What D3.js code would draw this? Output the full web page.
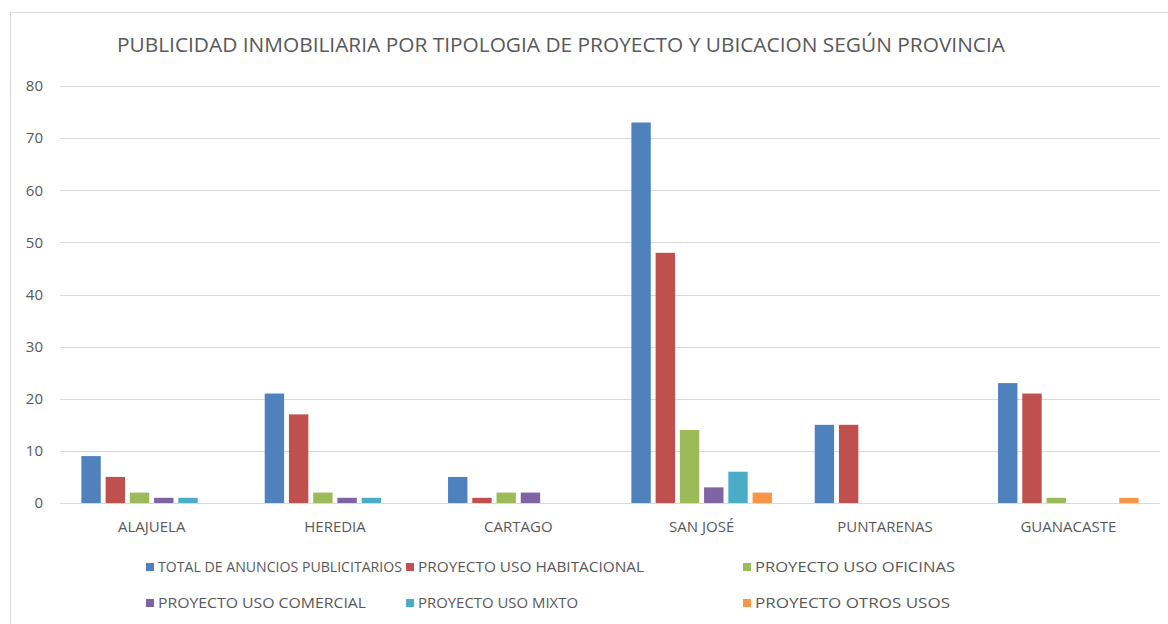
<!DOCTYPE html>
<html>
<head>
<meta charset="utf-8">
<script src="https://cdn.jsdelivr.net/npm/d3@7"></script>
<style>
	body { margin: 0; background: #fff; }
	text { font-family: "Open Sans", "DejaVu Sans", sans-serif; fill: #595959; }
</style>
</head>
<body>
<svg width="1168" height="624"></svg>
<script>
//	data
var provincias = ["ALAJUELA", "HEREDIA", "CARTAGO", "SAN JOSÉ", "PUNTARENAS", "GUANACASTE"];
var series = ["TOTAL DE ANUNCIOS PUBLICITARIOS", "PROYECTO USO HABITACIONAL", "PROYECTO USO OFICINAS",
	"PROYECTO USO COMERCIAL", "PROYECTO USO MIXTO", "PROYECTO OTROS USOS"];
var total = [9, 21, 5, 73, 15, 23];
var habitacional = [5, 17, 1, 48, 15, 21];
var oficinas = [2, 2, 2, 14, 0, 1];
var comercial = [1, 1, 2, 3, 0, 0];
var mixto = [1, 1, 0, 6, 0, 0];
var otros = [0, 0, 0, 2, 0, 1];
var yTicks = [0, 10, 20, 30, 40, 50, 60, 70, 80];
var colores = ["#4f81bd", "#c0504d", "#9bbb59", "#8064a2", "#4bacc6", "#f79646"];

var valores = [total, habitacional, oficinas, comercial, mixto, otros];

var svg = d3.select("svg");
//	chart frame (cut by the picture at right and bottom)
svg.append("rect")
	.attr("x", 10.5).attr("y", 12.5)
	.attr("width", 1200).attr("height", 700)
	.attr("fill", "none").attr("stroke", "#d9d9d9");

var margin = {top: 86, left: 60, right: 8, bottom: 121};
var width = 1168 - margin.left - margin.right,
	height = 624 - margin.top - margin.bottom;
var g = svg.append("g").attr("transform", "translate(" + margin.left + "," + margin.top + ")");

var x0 = d3.scaleBand().domain(provincias).range([0, width]).paddingInner(0.22).paddingOuter(0.11);
var x1 = d3.scaleBand().domain(d3.range(series.length)).range([0, x0.bandwidth()])
	.paddingInner(0.2).paddingOuter(0.05);
var y = d3.scaleLinear().domain([0, 80]).range([height, 0]);

//	grid
g.append("g").selectAll("line")
	.data(yTicks)
	.enter().append("line")
		.attr("x1", 0).attr("x2", width)
		.attr("y1", function(d) { return Math.round(y(d)) + 0.5; })
		.attr("y2", function(d) { return Math.round(y(d)) + 0.5; })
		.attr("stroke", "#d9d9d9");

var axisY = d3.axisLeft(y).tickValues(yTicks).tickSize(0).tickPadding(17);
g.append("g").call(axisY)
	.call(function(a) { a.select(".domain").remove(); })
	.selectAll("text")
		.style("font-size", "15px").style("font-family", null).attr("fill", "#595959");

var axisX = d3.axisBottom(x0).tickSize(0).tickPadding(18);
g.append("g").attr("transform", "translate(0," + height + ")").call(axisX)
	.call(function(a) { a.select(".domain").remove(); })
	.selectAll("text")
		.style("font-size", "15px").style("font-family", null).attr("fill", "#595959");

//	bars
var grupos = g.selectAll(".grupo")
	.data(provincias)
	.enter().append("g")
		.attr("class", "grupo")
		.attr("transform", function(d) { return "translate(" + x0(d) + ",0)"; });
grupos.selectAll("rect")
	.data(function(d, i) { return valores.map(function(v, s) { return {s: s, v: v[i]}; }); })
	.enter().append("rect")
		.filter(function(d) { return d.v > 0; })
		.attr("x", function(d) { return x1(d.s); })
		.attr("width", x1.bandwidth())
		.attr("y", function(d) { return y(d.v); })
		.attr("height", function(d) { return y(0) - y(d.v); })
		.attr("fill", function(d) { return colores[d.s]; });

//	title
svg.append("text")
	.attr("x", 561).attr("y", 52)
	.attr("text-anchor", "middle")
	.attr("textLength", 888).attr("lengthAdjust", "spacingAndGlyphs")
	.style("font-size", "20px")
	.text("PUBLICIDAD INMOBILIARIA POR TIPOLOGIA DE PROYECTO Y UBICACION SEGÚN PROVINCIA");

//	legend, 3 columns x 2 rows
var colX = [146, 406, 743], rowY = [567, 603];
var leyenda = svg.append("g").selectAll("g")
	.data(series)
	.enter().append("g")
		.attr("transform", function(d, i) { return "translate(" + colX[i % 3] + "," + rowY[Math.floor(i / 3)] + ")"; });
leyenda.append("rect")
	.attr("x", 0).attr("y", -4).attr("width", 8).attr("height", 8)
	.attr("fill", function(d, i) { return colores[i]; });
leyenda.append("text")
	.attr("x", 12).attr("dy", "0.35em")
	.style("font-size", "14px")
	.text(function(d) { return d; })
	.each(function(d, i) {
		//	squeeze text to Calibri-like widths
		var w = [244, 226, 200, 208, 160, 195][i];
		d3.select(this).attr("textLength", w).attr("lengthAdjust", "spacingAndGlyphs");
	});
</script>
</body>
</html>
